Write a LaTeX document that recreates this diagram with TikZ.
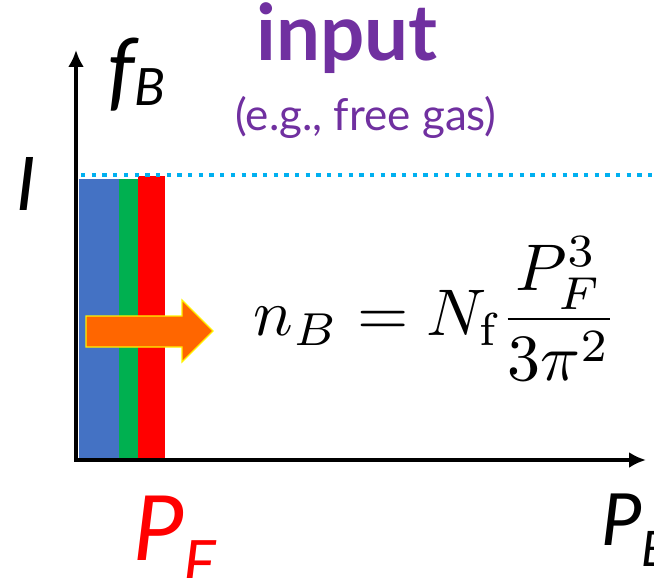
\documentclass[tikz,border=0pt]{standalone}
\usepackage{amsmath}
\usepackage{graphicx}
\usepackage{fontspec}
\newfontfamily\gill{Lato}
\usetikzlibrary{arrows.meta}
\definecolor{barblue}{HTML}{4472C4}
\definecolor{bargreen}{HTML}{00B050}
\definecolor{barred}{HTML}{FF0000}
\definecolor{lineblue}{HTML}{00B0F0}
\definecolor{titlepurple}{HTML}{7030A0}
\definecolor{arroworange}{HTML}{FF6600}
% label with a large lowered subscript
\newcommand{\sublab}[3][0.3em]{#2\raisebox{-#1}{\scalebox{0.68}{#3}}}

\begin{document}
\begin{tikzpicture}[x=1pt,y=-1pt,>={Latex[length=17pt,width=16pt]},
  axis/.style={line width=4.5pt,<->},
  lab/.style={inner sep=0pt,anchor=base west},
  title/.style={inner sep=0pt,anchor=base,text=titlepurple}]
  \useasboundingbox (0,0) rectangle (654,578);
  % occupation bars
  \fill[barblue] (79,179) rectangle (119,458);
  \fill[bargreen] (119,179) rectangle (138,458);
  \fill[barred] (138,176) rectangle (165,458);
  % level of the free gas
  \draw[lineblue,line width=4.5pt,dash pattern=on 4.3pt off 6.4pt] (81,175) -- (652,175);
  % axes
  \coordinate (top) at (76,50);
  \coordinate (origin) at (76,460);
  \coordinate (right) at (646,460);
  \draw[axis] (top) -- (origin) -- (right);
  % block arrow
  \filldraw[fill=arroworange,draw=yellow,line width=1.2pt]
    (86,316) -- (182,316) -- (182,300) -- (213,331) -- (182,362) -- (182,347) -- (86,347) -- cycle;
  % labels
  \node[lab,font=\gill\itshape\fontsize{86}{86}\selectfont] (fB) at (107,100) {\sublab[0.06em]{f}{\scalebox{0.88}{B}}};
  \node[lab,font=\gill\itshape\fontsize{74}{74}\selectfont] (one) at (16,210) {I};
  \node[lab,text=barred,font=\gill\itshape\fontsize{90}{90}\selectfont] (PF) at (133,560) {\sublab[0.27em]{P}{F}};
  \node[lab,font=\gill\itshape\fontsize{72}{72}\selectfont] (PB) at (601,545) {\sublab[0.3em]{P}{B}};
  \node[title,font=\gill\bfseries\fontsize{78}{78}\selectfont] (input) at (347,61) {input};
  \node[title,font=\gill\fontsize{44}{44}\selectfont] (gas) at (366,130) {(e.g., free gas)};
  \node[inner sep=0pt,scale=6.6] (nB) at (436,309) {$n_B = N_\mathrm{f}\dfrac{P_F^3}{3\pi^2}$};
\end{tikzpicture}
\end{document}
